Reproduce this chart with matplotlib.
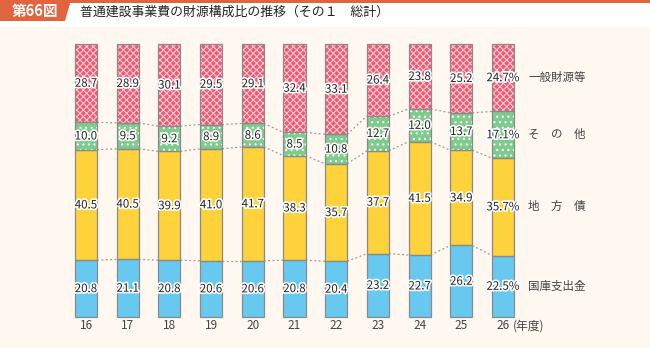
import matplotlib
matplotlib.use("Agg")
import matplotlib.pyplot as plt
import matplotlib.patheffects as pe
from matplotlib.patches import Polygon, Rectangle
import numpy as np

plt.rcParams['font.family'] = ['Noto Sans CJK JP', 'DejaVu Sans']
plt.rcParams['hatch.linewidth'] = 0.8

years = ['16', '17', '18', '19', '20', '21', '22', '23', '24', '25', '26']
kokko = [20.8, 21.1, 20.8, 20.6, 20.6, 20.8, 20.4, 23.2, 22.7, 26.2, 22.5]
chihousai = [40.5, 40.5, 39.9, 41.0, 41.7, 38.3, 35.7, 37.7, 41.5, 34.9, 35.7]
sonota = [10.0, 9.5, 9.2, 8.9, 8.6, 8.5, 10.8, 12.7, 12.0, 13.7, 17.1]
ippan = [28.7, 28.9, 30.1, 29.5, 29.1, 32.4, 33.1, 26.4, 23.8, 25.2, 24.7]
series_names = ['国庫支出金', '地\u3000方\u3000債', 'そ\u3000の\u3000他', '一般財源等']
title = '普通建設事業費の財源構成比の推移（その１\u3000総計）'
tab_label = '第66図'

W, H = 650, 348
fig = plt.figure(figsize=(6.5, 3.48), dpi=100)
fig.patch.set_facecolor('#fef8f1')

# header (figure pixel coords, origin top-left)
hdr = fig.add_axes([0, 0, 1, 1], zorder=0)
hdr.set_xlim(0, W)
hdr.set_ylim(H, 0)
hdr.axis('off')
hdr.add_patch(Rectangle((0, 0), W, 27, facecolor='white', edgecolor='none'))
hdr.add_patch(Rectangle((0, 0), W, 2.5, facecolor='#e0653e', edgecolor='none'))
hdr.add_patch(Polygon([(0, 0), (71, 0), (65, 21), (0, 21)], closed=True,
                      facecolor='#e0653e', edgecolor='none'))
hdr.text(35, 11, tab_label, color='white', fontsize=10.5, fontweight='bold',
         ha='center', va='center')
hdr.text(80, 12, title, color='#222222', fontsize=9.3,
         ha='left', va='center')

# chart axes: x unit = 41.7 px, y unit = 2.73 px
x0px, step = 86.0, 41.7
y0px, yscale = 317.0, 2.73
ax = fig.add_axes([0, 0, 1, 1], zorder=1)
ax.set_xlim(-x0px / step, (W - x0px) / step)
ax.set_ylim(-(H - y0px) / yscale, -(H - y0px) / yscale + H / yscale)
ax.axis('off')
ax.patch.set_alpha(0)

x = np.arange(len(years))
width = 0.53
data = [kokko, chihousai, sonota, ippan]
colors = ['#67c8f0', '#fdd23a', '#7dcb8d', '#ee5a72']
hatches = [None, None, '...', 'xxxxx']
hatch_cols = [None, None, 'white', '#ffc8d2']

bottoms = np.zeros(len(years))
tops_list = []
for vals, col, h, hc in zip(data, colors, hatches, hatch_cols):
    vals = np.array(vals)
    if h:
        ax.bar(x, vals, width, bottom=bottoms, color=col, edgecolor=hc,
               hatch=h, linewidth=0, zorder=2)
    else:
        ax.bar(x, vals, width, bottom=bottoms, color=col, linewidth=0, zorder=2)
    ax.bar(x, vals, width, bottom=bottoms, fill=False, edgecolor='#8a8a8a',
           linewidth=0.9, zorder=3)
    for i, v in enumerate(vals):
        lab = f'{v:.1f}' + ('%' if i == len(vals) - 1 else '')
        ax.text(x[i], bottoms[i] + v / 2, lab, ha='center', va='center',
                fontsize=8.3, color='#222222', zorder=5,
                path_effects=[pe.withStroke(linewidth=2.4, foreground='white')])
    bottoms = bottoms + vals
    tops_list.append(bottoms.copy())

# dotted connectors
for tops in tops_list[:3]:
    for i in range(len(years) - 1):
        ax.plot([x[i] + width / 2, x[i + 1] - width / 2], [tops[i], tops[i + 1]],
                linestyle=(0, (1.5, 2)), color='#999999', linewidth=0.9, zorder=1)

# series labels on right
cum = np.concatenate([[0], np.cumsum([d[-1] for d in data])])
for k, name in enumerate(series_names):
    ax.text(x[-1] + 0.6, (cum[k] + cum[k + 1]) / 2, name, ha='left', va='center',
            fontsize=8.3, color='#444444')

# x labels
for i, yl in enumerate(years):
    ax.text(x[i], -3.2, yl, ha='center', va='center', fontsize=8.5, color='#444444')
ax.text(x[-1] + 0.24, -3.2, '(年度)', ha='left', va='center', fontsize=8.5, color='#444444')

fig.savefig('out.png', dpi=100, facecolor=fig.get_facecolor())
